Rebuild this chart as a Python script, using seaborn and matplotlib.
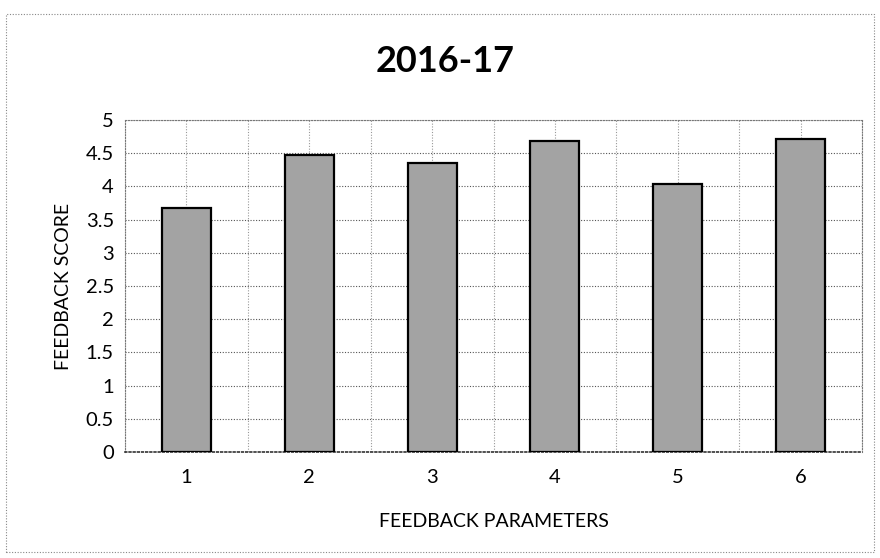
import pandas as pd
import matplotlib.pyplot as plt
import seaborn as sns
import numpy as np
from matplotlib.patches import Rectangle

# Data
parameters = ['1', '2', '3', '4', '5', '6']
scores = [3.68, 4.48, 4.35, 4.69, 4.03, 4.71]
y_ticks = [0, 0.5, 1, 1.5, 2, 2.5, 3, 3.5, 4, 4.5, 5]
y_labels = ['0', '0.5', '1', '1.5', '2', '2.5', '3', '3.5', '4', '4.5', '5']

df = pd.DataFrame({'Parameter': parameters, 'Score': scores})

sns.set_theme(style="white")
plt.rcParams['font.family'] = ['Lato', 'DejaVu Sans']
plt.rcParams['text.color'] = 'black'
plt.rcParams['axes.labelcolor'] = 'black'

fig = plt.figure(figsize=(8.8, 5.58), dpi=100)
ax = fig.add_axes([125 / 880, 1 - 452 / 558, (862 - 125) / 880, (452 - 120) / 558])

sns.barplot(x='Parameter', y='Score', data=df, color='#a3a3a3', width=0.4,
            edgecolor='black', linewidth=1.6, saturation=1, ax=ax, zorder=3)

ax.set_xlim(-0.5, 5.5)
ax.set_ylim(0, 5)
ax.set_yticks(y_ticks)
ax.set_yticklabels(y_labels)
ax.set_xticks(np.arange(-0.5, 5.6, 1.0), minor=True)

dots = (0, (1, 1.5))
ax.grid(True, which='major', axis='y', color='#555555', linestyle=dots, linewidth=0.8, zorder=0)
ax.grid(True, which='both', axis='x', color='#999999', linestyle=dots, linewidth=0.8, zorder=0)
ax.tick_params(axis='both', which='both', length=0, labelsize=14.5, colors='black')
ax.tick_params(axis='x', pad=12)
ax.tick_params(axis='y', pad=8)

for s in ax.spines.values():
    s.set_color('#777777')
    s.set_linestyle(dots)
    s.set_linewidth(0.8)
ax.spines['bottom'].set_color('#333333')
ax.spines['bottom'].set_linewidth(1.2)

ax.set_xlabel('FEEDBACK PARAMETERS', fontsize=14, labelpad=20)
ax.set_ylabel('FEEDBACK SCORE', fontsize=14, labelpad=10)

fig.text(445 / 880, 1 - 62 / 558, '2016-17', ha='center', va='center',
         fontsize=26, fontweight='bold', color='black')

# outer chart border
fig.patches.append(Rectangle((6 / 880, 0.01), 868 / 880, 1 - 14 / 558 - 0.01,
                             transform=fig.transFigure, fill=False,
                             edgecolor='#888888', linestyle=dots, linewidth=0.8))

fig.savefig('out.png', dpi=100)
